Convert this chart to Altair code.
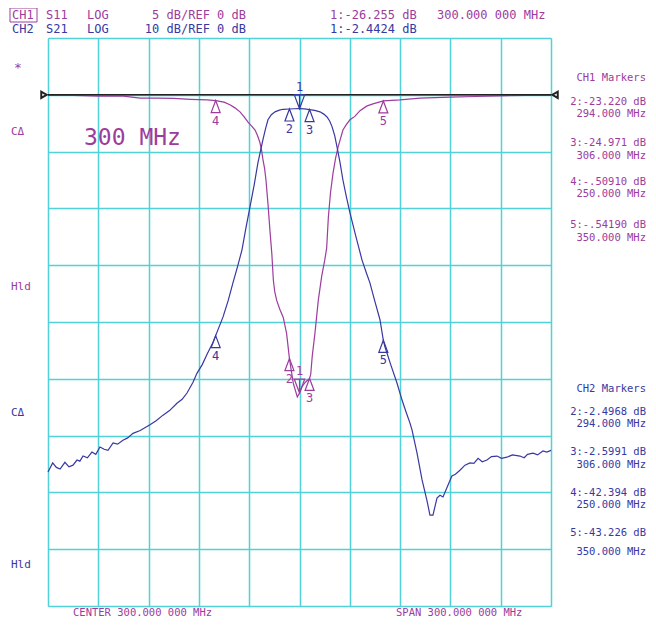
import altair as alt
import pandas as pd

# ---------------- data ----------------
freq_ticks = [150, 180, 210, 240, 270, 300, 330, 360, 390, 420, 450]
s11_ticks = [5, 0, -5, -10, -15, -20, -25, -30, -35, -40, -45]

s11_freq = [150, 165, 180, 195, 205, 215, 225, 235, 245, 250, 255, 258.5, 261.5, 264.5, 267,
            269.3, 271.5, 273.5, 275, 276.4, 277.4, 278.2, 279.2, 280.0, 281.2, 282.4, 283.5,
            284.4, 285.2, 286.4, 288.3, 290.3, 292.3, 294, 296.3, 298.7, 300, 301.5, 303.5, 306,
            306.7, 307.6, 309.2, 311.2, 313.2, 315, 316.2, 317.2, 318.5, 320.0, 321.5, 323.0,
            325.9, 328, 330.1, 333, 336.1, 340, 343.8, 350, 359.9, 371.9, 389.8, 405, 419.6,
            435, 450]
s11_db = [-0.05, -0.05, -0.12, -0.12, -0.3, -0.3, -0.32, -0.4, -0.45, -0.51, -0.65, -0.88,
          -1.15, -1.5, -1.95, -2.4, -2.75, -3.1, -3.6, -4.2, -4.9, -5.7, -6.5, -7.5, -9.6,
          -12.0, -14.0, -16.3, -17.3, -18.1, -18.9, -19.6, -21.0, -23.22, -25.4, -26.6,
          -26.255, -25.7, -25.3, -24.97, -24.6, -23.0, -21.0, -18.1, -16.0, -14.6, -13.5,
          -10.8, -8.6, -6.9, -5.6, -4.6, -3.1, -2.6, -2.2, -1.9, -1.4, -1.0, -0.8, -0.54,
          -0.45, -0.3, -0.2, -0.15, -0.1, -0.05, -0.05]

s21_freq = [150, 152.8, 155, 157.2, 160.1, 162.5, 164.9, 167.3, 169, 170.9, 173.5, 176.2,
            178.5, 181.0, 183.5, 185.8, 188.8, 191.5, 194.7, 197.5, 200.7, 205, 210.8, 214.5,
            218.6, 222.5, 226.9, 230, 232.9, 236.5, 238.9, 242, 245, 248.4, 250, 254.4, 257.5,
            260.3, 263, 265.7, 268, 270.5, 273, 275.2, 276.8, 278.2, 279.8, 281.2, 283.2,
            285.4, 288, 290.2, 294, 297, 300, 303, 306, 309, 312.2, 314.5, 316.4, 318, 319.4,
            321, 322.4, 324.2, 325.9, 328, 330.1, 333.5, 337.3, 339.7, 342.0, 345, 348.0, 350,
            351, 354.5, 358.1, 361.1, 363.5, 365.9, 367.1, 370.1, 373.1, 376.0, 377.8, 379.6,
            382.0, 383.8, 385.6, 388.6, 390.9, 393, 395.7, 398.7, 401.7, 404, 406.5, 409,
            411.8, 414.5, 417.8, 420.5, 423.7, 427, 431.5, 434, 436, 439.3, 442, 445.2, 447.5,
            450]
s21_db = [-66.4, -64.8, -65.6, -65.9, -64.7, -65.5, -65.2, -64.3, -64.5, -63.6, -63.9, -62.9,
          -63.3, -62.0, -62.4, -62.6, -61.3, -61.5, -60.8, -60.4, -59.6, -59.1, -58.1, -57.4,
          -56.4, -55.6, -54.3, -53.6, -52.5, -50.6, -49.0, -47.5, -45.6, -43.6, -42.394,
          -39.1, -36.2, -33.1, -30.3, -27.3, -23.5, -19.7, -15.8, -12.0, -9.8, -7.9, -5.9,
          -4.4, -3.5, -3.0, -2.7, -2.55, -2.4968, -2.46, -2.4424, -2.48, -2.5991, -2.75,
          -3.0, -3.4, -3.9, -4.6, -5.6, -7.2, -9.2, -12.0, -15.0, -18.0, -20.8, -24.8,
          -29.1, -31.2, -33.1, -36.4, -39.6, -43.226, -44.4, -47.6, -50.7, -53.7, -55.8,
          -57.8, -59.0, -63.1, -67.8, -71.4, -74.0, -74.0, -71.0, -70.5, -70.8, -68.7,
          -67.1, -66.8, -66.1, -65.2, -64.8, -64.9, -64.0, -64.6, -64.3, -63.7, -63.6,
          -64.0, -63.8, -63.4, -63.6, -63.9, -63.3, -63.1, -63.4, -62.7, -62.9, -62.6]

mk_num = ["1", "2", "3", "4", "5"]
mk_freq = [300, 294, 306, 250, 350]
ch1_mk_db = [-26.255, -23.220, -24.971, -0.50910, -0.54190]
ch2_mk_db = [-2.4424, -2.4968, -2.5991, -42.394, -43.226]
ch1_mk_txt = ["2:-23.220 dB", "294.000 MHz", "3:-24.971 dB", "306.000 MHz",
              "4:-.50910 dB", "250.000 MHz", "5:-.54190 dB", "350.000 MHz"]
ch2_mk_txt = ["2:-2.4968 dB", "294.000 MHz", "3:-2.5991 dB", "306.000 MHz",
              "4:-42.394 dB", "250.000 MHz", "5:-43.226 dB", "350.000 MHz"]
ref_level = [0]
span_edges = [150, 450]

# ---------------- style ----------------
MAG = "#9c3c9c"
BLU = "#3838a2"
CYAN = "#50d2d8"
MONO = "DejaVu Sans Mono"
X0, Y0 = 48, 38
W, H = 503, 568

xscale = alt.Scale(domain=[150, 450], nice=False, zero=False)
s11_scale = alt.Scale(domain=[-45, 5], nice=False, zero=False)
s21_scale = alt.Scale(domain=[-90, 10], nice=False, zero=False)
xaxis = alt.Axis(values=freq_ticks, grid=True, gridColor=CYAN, gridWidth=1.5, gridOpacity=1,
                 labels=False, ticks=False, domain=False, title=None)
yaxis = alt.Axis(values=s11_ticks, grid=True, gridColor=CYAN, gridWidth=1.5, gridOpacity=1,
                 labels=False, ticks=False, domain=False, title=None)

UP = "M0,-1L0.75,1L-0.75,1Z"
DOWN = "M-0.75,-1L0.75,-1L0,1Z M0,-1L0,1"

s11_df = pd.DataFrame({"f": s11_freq, "db": s11_db})
s21_df = pd.DataFrame({"f": s21_freq, "db": s21_db})
m1_df = pd.DataFrame({"n": mk_num, "f": mk_freq, "db": ch1_mk_db})
m2_df = pd.DataFrame({"n": mk_num, "f": mk_freq, "db": ch2_mk_db})
ref_df = pd.DataFrame({"f": [span_edges[0]], "f2": [span_edges[1]], "db": ref_level})
edge_l = pd.DataFrame({"f": [span_edges[0]], "db": ref_level})
edge_r = pd.DataFrame({"f": [span_edges[1]], "db": ref_level})


def enc(yscale, yax):
    X = alt.X("f:Q", scale=xscale, axis=xaxis)
    if yax is None:
        Y = alt.Y("db:Q", scale=yscale, axis=None)
    else:
        Y = alt.Y("db:Q", scale=yscale, axis=yax)
    return X, Y


def marker_layers(df, color, yscale, yax):
    X, Y = enc(yscale, yax)
    first = df[df.n == "1"]
    rest = df[df.n != "1"]
    return [
        alt.Chart(rest).mark_point(shape=UP, filled=False, size=144, strokeWidth=1.2,
                                   color=color, opacity=1, yOffset=6).encode(x=X, y=Y),
        alt.Chart(rest).mark_text(font=MONO, fontSize=12, color=color, dy=20).encode(
            x=X, y=Y, text="n:N"),
        alt.Chart(first).mark_point(shape=DOWN, filled=False, size=196, strokeWidth=1.2,
                                    color=color, opacity=1, yOffset=-7).encode(x=X, y=Y),
        alt.Chart(first).mark_text(font=MONO, fontSize=12, color=color, dy=-22).encode(
            x=X, y=Y, text="n:N"),
    ]


X11, Y11 = enc(s11_scale, yaxis)
s11_layers = [
    alt.Chart(s11_df).mark_line(color=MAG, strokeWidth=1.2).encode(x=X11, y=Y11),
    alt.Chart(ref_df).mark_rule(color="#222222", strokeWidth=1.6).encode(x=X11, x2="f2:Q", y=Y11),
    alt.Chart(edge_l).mark_point(shape="triangle-right", filled=False, size=40, color="#222222",
                                 opacity=1, xOffset=-4).encode(x=X11, y=Y11),
    alt.Chart(edge_r).mark_point(shape="triangle-left", filled=False, size=40, color="#222222",
                                 opacity=1, xOffset=4).encode(x=X11, y=Y11),
] + marker_layers(m1_df, MAG, s11_scale, yaxis)
s11_group = alt.layer(*s11_layers)

X21, Y21 = enc(s21_scale, None)
s21_layers = [
    alt.Chart(s21_df).mark_line(color=BLU, strokeWidth=1.2).encode(x=X21, y=Y21),
] + marker_layers(m2_df, BLU, s21_scale, None)
s21_group = alt.layer(*s21_layers)

one = pd.DataFrame({"a": [0]})


def txt(t, x, y, color, size=12, align="left", font=MONO):
    return alt.Chart(one).mark_text(text=t, font=font, fontSize=size, color=color, align=align,
                                    baseline="middle").encode(x=alt.value(x - X0), y=alt.value(y - Y0))


RX = 646
texts = [
    txt("CH1", 12, 15, MAG), txt("S11", 46, 15, MAG), txt("LOG", 87, 15, MAG),
    txt("5 dB/REF 0 dB", 246, 15, MAG, align="right"),
    txt("1:-26.255 dB", 330, 15, MAG), txt("300.000 000 MHz", 437, 15, MAG),
    txt("CH2", 12, 29, BLU), txt("S21", 46, 29, BLU), txt("LOG", 87, 29, BLU),
    txt("10 dB/REF 0 dB", 246, 29, BLU, align="right"),
    txt("1:-2.4424 dB", 330, 29, BLU),
    txt("*", 14, 68, MAG, size=13),
    txt("C\u0394", 11, 132, MAG, size=11),
    txt("Hld", 11, 287, MAG, size=11),
    txt("C\u0394", 11, 413, BLU, size=11),
    txt("Hld", 11, 565, BLU, size=11),
    txt("300 MHz", 84, 138, MAG, size=23),
    txt("CENTER 300.000 000 MHz", 73, 612.5, MAG, size=10.5),
    txt("SPAN 300.000 000 MHz", 396, 612.5, MAG, size=10.5),
    txt("CH1 Markers", RX, 78, MAG, size=10.5, align="right"),
    txt("CH2 Markers", RX, 389, BLU, size=10.5, align="right"),
]
ch1_y = [102, 114, 143, 156, 182, 194, 225, 238]
ch2_y = [412, 424, 452, 465, 493, 505, 533, 552]
for t, yy in zip(ch1_mk_txt, ch1_y):
    texts.append(txt(t, RX, yy, MAG, size=10.5, align="right"))
for t, yy in zip(ch2_mk_txt, ch2_y):
    texts.append(txt(t, RX, yy, BLU, size=10.5, align="right"))

box = alt.Chart(one).mark_rect(fillOpacity=0, stroke=MAG, strokeWidth=1).encode(
    x=alt.value(10 - X0), x2=alt.value(37 - X0), y=alt.value(8 - Y0), y2=alt.value(22 - Y0))

chart = alt.layer(s11_group, s21_group, box, *texts).resolve_scale(y="independent").properties(
    width=W, height=H,
    padding={"left": 40, "top": 30, "right": 96, "bottom": 12},
    autosize=alt.AutoSizeParams(type="none"),
).configure_view(stroke=CYAN, strokeWidth=1.5).configure(background="white")

chart.save("out.html", embed_options={"renderer": "svg", "actions": False})
